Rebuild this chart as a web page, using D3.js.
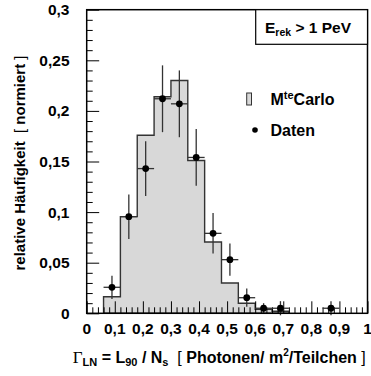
<!DOCTYPE html>
<html>
<head>
<meta charset="utf-8">
<script src="https://cdn.jsdelivr.net/npm/d3@7"></script>
<style>
  body { margin:0; background:#fff; }
  text { font-family: "Liberation Sans", Arial, sans-serif; font-weight: bold; white-space: pre; }
</style>
</head>
<body>
<div id="chart-area"></div>
<script>
// Monte Carlo histogram: lower bin edges and heights
var binLo    = [0.06, 0.12, 0.18, 0.24, 0.30, 0.36, 0.42, 0.48, 0.54, 0.60, 0.66];
var binWidth = 0.06;
var mcValues = [0.0164, 0.0955, 0.176, 0.214, 0.230, 0.151, 0.0705, 0.030, 0.0099, 0.004, 0.002];

// measured data points
var dataX   = [0.09, 0.15, 0.21, 0.27, 0.33, 0.39, 0.45, 0.51, 0.57, 0.63, 0.69, 0.87];
var dataY   = [0.0257, 0.0955, 0.143, 0.212, 0.207, 0.154, 0.079, 0.053, 0.0154, 0.005, 0.005, 0.005];
var dataErr = [0.0115, 0.022, 0.027, 0.033, 0.033, 0.028, 0.020, 0.016, 0.009, 0.005, 0.007, 0.007];

var xTicks = [0, 0.1, 0.2, 0.3, 0.4, 0.5, 0.6, 0.7, 0.8, 0.9, 1];
var xTickLabels = ["0", "0,1", "0,2", "0,3", "0,4", "0,5", "0,6", "0,7", "0,8", "0,9", "1"];
var yTicks = [0, 0.05, 0.1, 0.15, 0.2, 0.25, 0.3];
var yTickLabels = ["0", "0,05", "0,1", "0,15", "0,2", "0,25", "0,3"];

var W = 371, H = 376;
var m = { left: 86.7, right: 367.5, top: 9.7, bottom: 313.3 };

var svg = d3.select("#chart-area").append("svg")
  .attr("width", W)
  .attr("height", H);

var x = d3.scaleLinear().domain([0, 1]).range([m.left, m.right]);
var y = d3.scaleLinear().domain([0, 0.3]).range([m.bottom, m.top]);

// histogram as a step area
var hist = binLo.map((d, i) => ({ x: d, v: mcValues[i] }));
hist.push({ x: binLo[binLo.length - 1] + binWidth, v: 0 });

var area = d3.area()
  .curve(d3.curveStepAfter)
  .x(d => x(d.x))
  .y0(y(0))
  .y1(d => y(d.v));

svg.append("path")
  .datum(hist)
  .attr("d", area)
  .attr("fill", "#d8d8d8")
  .attr("stroke", "#333")
  .attr("stroke-width", 1.4);

// axes (ticks inside the frame)
var yAxis = d3.axisRight(y).tickValues(d3.range(0, 0.3001, 0.01)).tickFormat("")
  .tickSizeOuter(0);
svg.append("g")
  .attr("transform", "translate(" + m.left + ",0)")
  .call(yAxis)
  .call(g => g.selectAll(".tick line")
    .attr("x2", d => (Math.round(d * 100) % 5 === 0) ? 12.5 : 6)
    .attr("stroke", "#000").attr("stroke-width", 1))
  .call(g => g.select(".domain").remove());

var xAxis = d3.axisTop(x).tickValues(d3.range(0, 1.0001, 0.02)).tickFormat("")
  .tickSizeOuter(0);
svg.append("g")
  .attr("transform", "translate(0," + m.bottom + ")")
  .call(xAxis)
  .call(g => g.selectAll(".tick line")
    .attr("y2", d => (Math.round(d * 100) % 10 === 0) ? -12 : -6)
    .attr("stroke", "#000").attr("stroke-width", 1))
  .call(g => g.select(".domain").remove());

// tick labels
svg.selectAll(".ylab").data(yTicks).enter().append("text")
  .attr("x", 69.5)
  .attr("y", d => y(d) + 5.5)
  .attr("text-anchor", "end")
  .attr("font-size", "15.5px")
  .text((d, i) => yTickLabels[i]);

svg.selectAll(".xlab").data(xTicks).enter().append("text")
  .attr("x", d => x(d))
  .attr("y", 334)
  .attr("text-anchor", "middle")
  .attr("font-size", "15.5px")
  .text((d, i) => xTickLabels[i]);

// data points with error bars
var pts = dataX.map((d, i) => ({ x: d, y: dataY[i], e: dataErr[i] }));
var pg = svg.append("g");
pg.selectAll(".ex").data(pts).enter().append("line")
  .attr("x1", d => x(d.x - binWidth / 2))
  .attr("x2", d => x(d.x + binWidth / 2))
  .attr("y1", d => y(d.y)).attr("y2", d => y(d.y))
  .attr("stroke", "#333").attr("stroke-width", 1.3);
pg.selectAll(".ey").data(pts).enter().append("line")
  .attr("x1", d => x(d.x)).attr("x2", d => x(d.x))
  .attr("y1", d => y(d.y - d.e))
  .attr("y2", d => y(d.y + d.e))
  .attr("stroke", "#333").attr("stroke-width", 1.3);
pg.selectAll("circle").data(pts).enter().append("circle")
  .attr("cx", d => x(d.x))
  .attr("cy", d => y(d.y))
  .attr("r", 3.4)
  .attr("fill", "#000");

// frame
svg.append("rect")
  .attr("x", m.left).attr("y", m.top)
  .attr("width", m.right - m.left).attr("height", m.bottom - m.top)
  .attr("fill", "none").attr("stroke", "#000").attr("stroke-width", 1.5);

// energy box
svg.append("rect")
  .attr("x", 255.7).attr("y", m.top)
  .attr("width", m.right - 255.7).attr("height", 34.6)
  .attr("fill", "#fff").attr("stroke", "#000").attr("stroke-width", 1.2);
var et = svg.append("text").attr("x", 265).attr("y", 32.5).attr("font-size", "15.5px");
et.append("tspan").text("E");
et.append("tspan").attr("font-size", "10.5px").attr("dy", 3.5).text("rek");
et.append("tspan").attr("dy", -3.5).text(" > 1 PeV");

// legend
svg.append("rect")
  .attr("x", 246.7).attr("y", 93)
  .attr("width", 4.8).attr("height", 12)
  .attr("fill", "#d8d8d8").attr("stroke", "#333").attr("stroke-width", 1);
var lt = svg.append("text").attr("x", 270.5).attr("y", 105).attr("font-size", "16px");
lt.append("tspan").text("M");
lt.append("tspan").attr("font-size", "11px").attr("dy", -6).text("te");
lt.append("tspan").attr("dy", 6).text("Carlo");

svg.append("circle").attr("cx", 255).attr("cy", 130).attr("r", 2.8).attr("fill", "#000");
svg.append("text").attr("x", 270.5).attr("y", 135.5).attr("font-size", "16px").text("Daten");

// y axis title
var yt = svg.append("text")
  .attr("transform", "translate(25," + 163 + ") rotate(-90)")
  .attr("text-anchor", "middle")
  .attr("font-size", "15px");
yt.append("tspan").text("relative Häufigkeit  ");
yt.append("tspan").attr("font-weight", "normal").text("[ ");
yt.append("tspan").text("normiert");
yt.append("tspan").attr("font-weight", "normal").text(" ]");

// x axis title
var xt = svg.append("text")
  .attr("x", 72.7).attr("y", 363)
  .attr("font-size", "16px");
xt.append("tspan").attr("font-family", "'Liberation Serif', serif").attr("font-weight", "normal").attr("font-size", "17px").text("Γ");
xt.append("tspan").attr("font-size", "11px").attr("dy", 3).text("LN");
xt.append("tspan").attr("dy", -3).text(" = L");
xt.append("tspan").attr("font-size", "11px").attr("dy", 3).text("90");
xt.append("tspan").attr("dy", -3).text(" / N");
xt.append("tspan").attr("font-size", "11px").attr("dy", 3).text("s");
xt.append("tspan").attr("dy", -3).attr("font-weight", "normal").text("  [ ");
xt.append("tspan").text("Photonen/ m");
xt.append("tspan").attr("font-size", "10px").attr("dy", -7).text("2");
xt.append("tspan").attr("dy", 7).text("/Teilchen ");
xt.append("tspan").attr("font-weight", "normal").text("]");
</script>
</body>
</html>
